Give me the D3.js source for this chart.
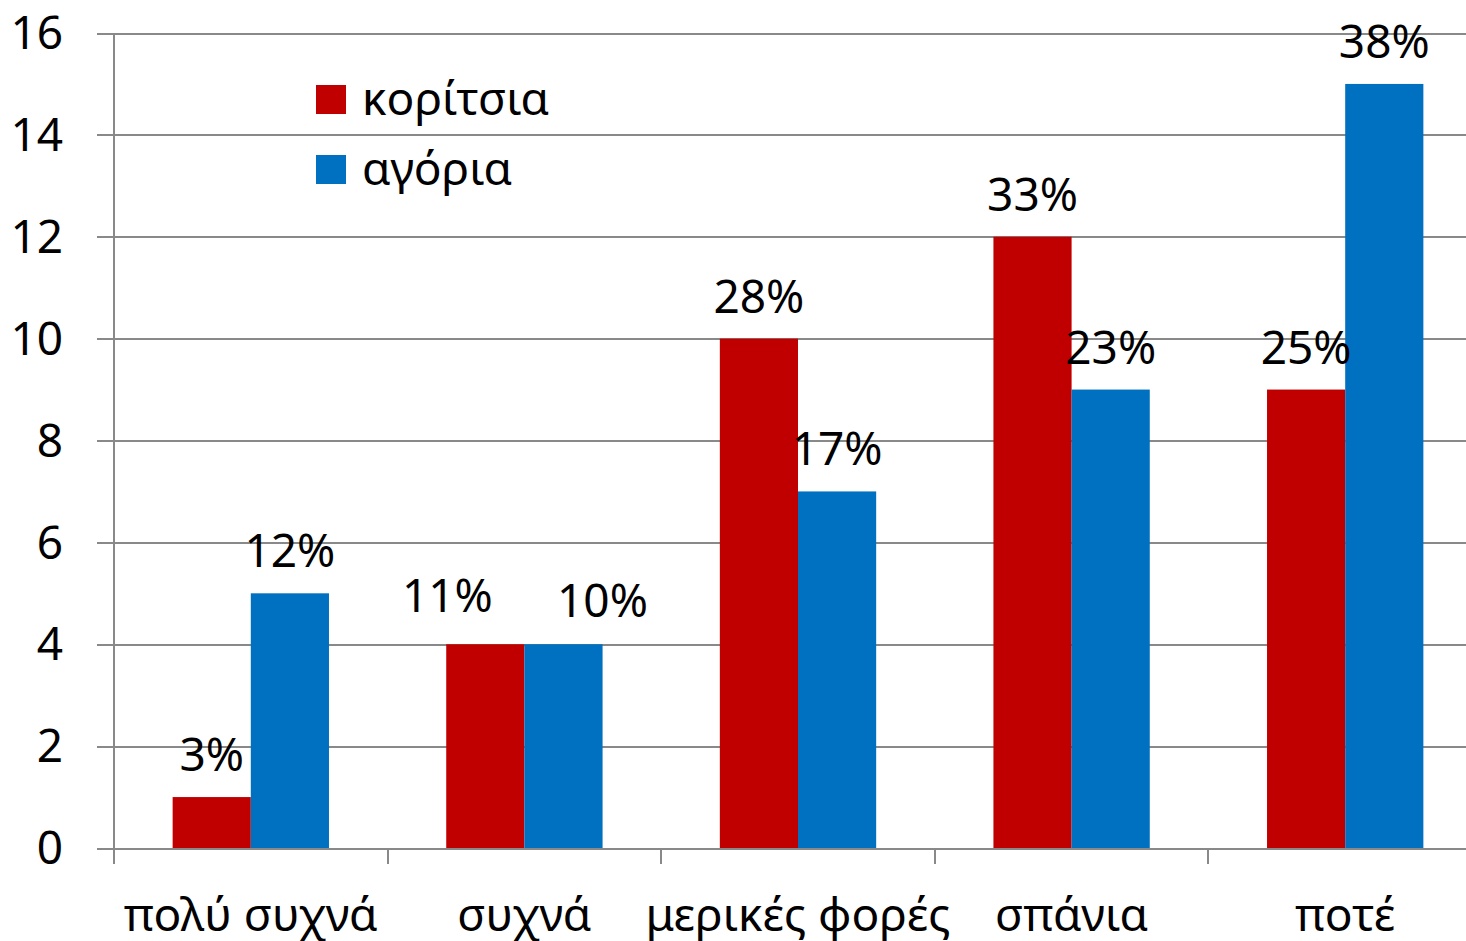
<!DOCTYPE html>
<html lang="el">
<head>
  <meta charset="UTF-8">
  <title>κορίτσια / αγόρια</title>
  <style>
    body { margin: 0; background: #fff; }
    svg text {
      font-family: "Noto Sans", "Open Sans", sans-serif;
      font-size: 46px;
      fill: #000;
    }
    .grid line, .axis line, .axis path {
      stroke: #898989;
      stroke-width: 2px;
      shape-rendering: crispEdges;
    }
  </style>
</head>
<body>
  <svg class="chart"></svg>
  <script src="https://cdn.jsdelivr.net/npm/d3@7"></script>
  <script>
    // data
    var categories = ["πολύ συχνά", "συχνά", "μερικές φορές", "σπάνια", "ποτέ"];
    var seriesNames = ["κορίτσια", "αγόρια"];
    var girls = [1, 4, 10, 12, 9];
    var boys = [5, 4, 7, 9, 15];
    var girlsPct = ["3%", "11%", "28%", "33%", "25%"];
    var boysPct = ["12%", "10%", "17%", "23%", "38%"];
    var yTicks = [0, 2, 4, 6, 8, 10, 12, 14, 16];
    var colors = ["#C00000", "#0070C0"];

    var W = 1466, H = 941;
    var plotLeft = 114, plotTop = 33, plotBottom = 848;
    var plotW = 1368;  // five categories, last edge runs off the picture

    var svg = d3.select(".chart").attr("width", W).attr("height", H);
    var g = svg.append("g").attr("transform", "translate(" + plotLeft + ",0)");

    var x = d3.scaleBand().domain(categories).range([0, plotW]);
    var x1 = d3.scaleBand().domain(seriesNames).range([0, x.bandwidth()])
      .paddingInner(0).paddingOuter(0.75);
    var y = d3.scaleLinear().domain([0, 16]).range([plotBottom, plotTop]);

    // gridlines + y labels
    var yAxis = g.append("g").attr("class", "grid")
      .call(d3.axisLeft(y).tickValues(yTicks).tickSize(0).tickPadding(51));
    yAxis.select(".domain").remove();
    yAxis.selectAll(".tick line").attr("x1", -17).attr("x2", plotW);
    yAxis.selectAll(".tick text").attr("dy", "0.34em");

    // y axis line
    g.append("line")
      .attr("x1", 0).attr("x2", 0).attr("y1", plotTop).attr("y2", plotBottom)
      .style("stroke", "#898989").style("stroke-width", 2)
      .style("shape-rendering", "crispEdges");

    // x axis ticks between categories
    var edges = categories.map(function(c) { return x(c); });
    g.append("g").attr("class", "axis").selectAll("line")
      .data(edges).enter().append("line")
      .attr("x1", function(d) { return d; }).attr("x2", function(d) { return d; })
      .attr("y1", plotBottom).attr("y2", plotBottom + 16);

    var rows = categories.map(function(c, i) {
      return { cat: c, vals: [girls[i], boys[i]], pct: [girlsPct[i], boysPct[i]] };
    });

    var groups = g.selectAll(".cat").data(rows).enter().append("g")
      .attr("class", "cat")
      .attr("transform", function(d) { return "translate(" + x(d.cat) + ",0)"; });

    groups.selectAll("rect").data(function(d) {
      return d.vals.map(function(v, j) { return { s: seriesNames[j], v: v, j: j }; });
    }).enter().append("rect")
      .attr("x", function(d) { return x1(d.s); })
      .attr("y", function(d) { return y(d.v); })
      .attr("width", x1.bandwidth())
      .attr("height", function(d) { return y(0) - y(d.v); })
      .attr("fill", function(d) { return colors[d.j]; });

    // Excel pushed the two labels of equal bars apart
    var nudge = { "συχνά": [[-38, -6], [39, -1]] };

    groups.selectAll("text.lbl").data(function(d) {
      return d.vals.map(function(v, j) {
        return { s: seriesNames[j], v: v, p: d.pct[j], n: nudge[d.cat] ? nudge[d.cat][j] : [0, 0] };
      });
    }).enter().append("text")
      .attr("class", "lbl")
      .attr("text-anchor", "middle")
      .attr("x", function(d) { return x1(d.s) + x1.bandwidth() / 2 + d.n[0]; })
      .attr("y", function(d) { return y(d.v) - 26 + d.n[1]; })
      .text(function(d) { return d.p; });

    // category labels
    g.selectAll("text.cat-label").data(categories).enter().append("text")
      .attr("class", "cat-label")
      .attr("text-anchor", "middle")
      .attr("x", function(d) { return x(d) + x.bandwidth() / 2; })
      .attr("y", 931)
      .text(function(d) { return d; });

    // legend
    var legend = svg.append("g").attr("transform", "translate(316,85)");
    var item = legend.selectAll("g").data(seriesNames).enter().append("g")
      .attr("transform", function(d, i) { return "translate(0," + i * 70 + ")"; });
    item.append("rect").attr("width", 30).attr("height", 29)
      .attr("fill", function(d, i) { return colors[i]; });
    item.append("text").attr("x", 46).attr("y", 30).text(function(d) { return d; });
  </script>
</body>
</html>
